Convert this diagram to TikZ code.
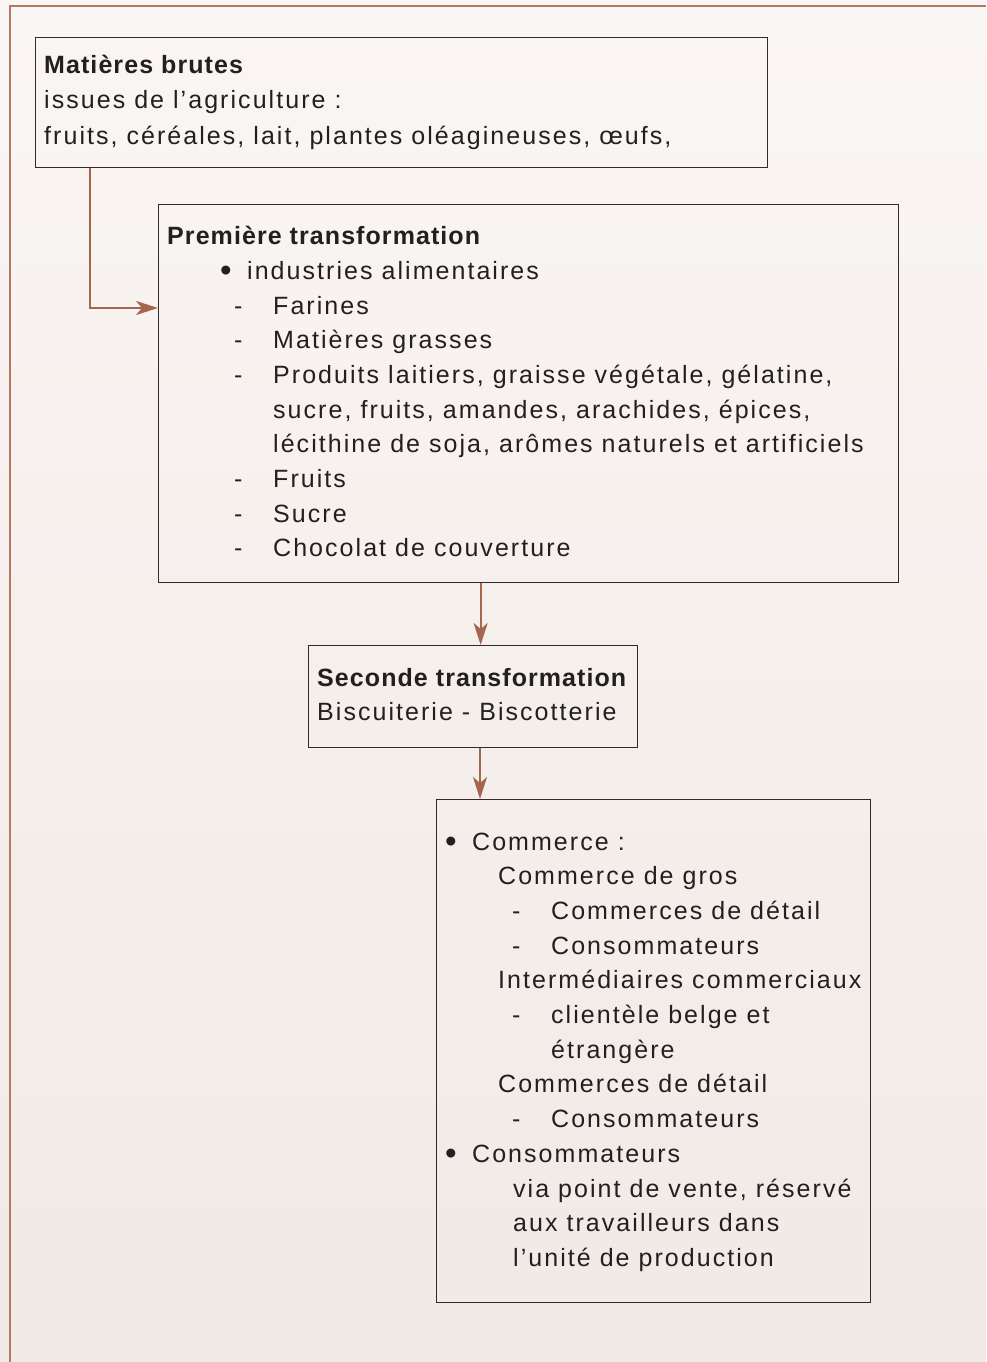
\documentclass[tikz,border=0pt]{standalone}
\usepackage{fontspec}
\setmainfont[LetterSpace=8.2, BoldFeatures={LetterSpace=4.3}]{Liberation Sans}
\usetikzlibrary{arrows.meta}
\definecolor{bgtop}{HTML}{FAF6F3}
\definecolor{bgbot}{HTML}{F1E9E6}
\definecolor{frame}{HTML}{B07A65}
\definecolor{arrowc}{HTML}{A4664C}
\definecolor{boxc}{HTML}{2E2B2A}
\definecolor{ink}{HTML}{231F20}
\tikzset{
  boxn/.style={draw=boxc, line width=1.3pt, inner sep=0pt, anchor=north west},
  txt/.style={anchor=base west, inner sep=0pt, text=ink, font=\fontsize{25}{30}\selectfont},
  bold/.style={txt, font=\fontsize{25}{30}\selectfont\bfseries},
  bul/.style={txt, font=\fontsize{33}{30}\selectfont, yshift=-2pt},
  arr/.style={draw=arrowc, line width=2pt, -{Stealth[length=22pt,width=14pt,inset=6pt]}},
}
\begin{document}
\begin{tikzpicture}[x=1pt,y=-1pt]
\shade[top color=bgtop, bottom color=bgbot] (0,0) rectangle (986,1362);
\useasboundingbox (0,0) rectangle (986,1362);
\draw[frame, line width=2pt] (10,1362) -- (10,6) -- (986,6);
% boxes
\node[boxn, minimum width=732pt, minimum height=130pt] (b1) at (35,37) {};
\node[boxn, minimum width=740pt, minimum height=378pt] (b2) at (158,204) {};
\node[boxn, minimum width=329pt, minimum height=102pt] (b3) at (308,645) {};
\node[boxn, minimum width=434pt, minimum height=503pt] (b4) at (436,799) {};
% box 1 text
\node[bold] (t11) at (44,74) {Matières brutes};
\node[txt] (t12) at (44,109) {issues de l’agriculture :};
\node[txt] (t13) at (44,144) {fruits, céréales, lait, plantes oléagineuses, œufs,};
% box 2 text
\node[bold] (t21) at (167,244) {Première transformation};
\node[bul] (u21) at (220,279) {•};
\node[txt] (t22) at (247,279) {industries alimentaires};
\foreach \y/\t [count=\i] in {314/Farines,348/Matières grasses,383/{Produits laitiers, graisse végétale, gélatine,},487/Fruits,522/Sucre,556/Chocolat de couverture}{
  \node[txt] (d2\i) at (234,\y) {-};
  \node[txt] (l2\i) at (273,\y) {\t};
}
\node[txt] (t2a) at (273,418) {sucre, fruits, amandes, arachides, épices,};
\node[txt] (t2b) at (273,452) {lécithine de soja, arômes naturels et artificiels};
% box 3 text
\node[bold] (t31) at (317,686) {Seconde transformation};
\node[txt] (t32) at (317,720) {Biscuiterie - Biscotterie};
% box 4 text
\node[bul] (u41) at (445,850) {•};
\node[txt] (t41) at (472,850) {Commerce :};
\node[txt] (t42) at (498,884.7) {Commerce de gros};
\node[txt] (d43) at (512,919.4) {-};
\node[txt] (t43) at (551,919.4) {Commerces de détail};
\node[txt] (d44) at (512,954.1) {-};
\node[txt] (t44) at (551,954.1) {Consommateurs};
\node[txt] (t45) at (498,988.8) {Intermédiaires commerciaux};
\node[txt] (d46) at (512,1023.5) {-};
\node[txt] (t46) at (551,1023.5) {clientèle belge et};
\node[txt] (t47) at (551,1058.2) {étrangère};
\node[txt] (t48) at (498,1092.9) {Commerces de détail};
\node[txt] (d49) at (512,1127.6) {-};
\node[txt] (t49) at (551,1127.6) {Consommateurs};
\node[bul] (u4a) at (445,1162.3) {•};
\node[txt] (t4a) at (472,1162.3) {Consommateurs};
\node[txt] (t4b) at (513,1197) {via point de vente, réservé};
\node[txt] (t4c) at (513,1231.7) {aux travailleurs dans};
\node[txt] (t4d) at (513,1266.4) {l’unité de production};
% arrows
\draw[arr] ([xshift=55pt]b1.south west) |- ([yshift=-104pt]b2.north west);
\coordinate (a3) at ([xshift=7.5pt]b3.north);
\draw[arr] (b2.south -| a3) -- (a3);
\coordinate (a4) at ([xshift=44pt]b4.north west);
\draw[arr] (b3.south -| a4) -- (a4);
\end{tikzpicture}
\end{document}
